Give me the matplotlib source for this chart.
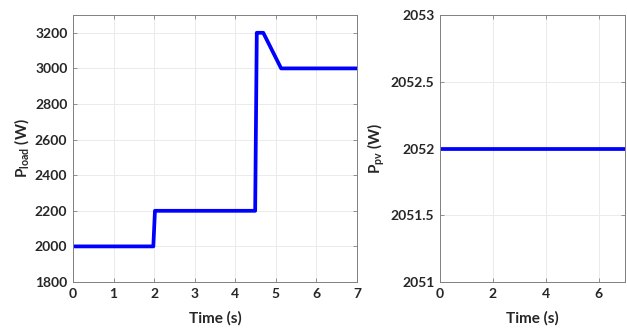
import matplotlib
matplotlib.use("Agg")
import matplotlib.pyplot as plt

# load profile breakpoints (s, W)
t_load = [0, 1.98, 2.02, 4.49, 4.53, 4.69, 5.13, 7]
p_load = [2000, 2000, 2200, 2200, 3200, 3200, 3000, 3000]

# pv output is constant over the run
t_pv = [0, 7]
p_pv = [2052, 2052]

plt.rcParams['font.family'] = ['Lato', 'DejaVu Sans']
plt.rcParams['font.weight'] = 'bold'
plt.rcParams['mathtext.fontset'] = 'custom'
plt.rcParams['mathtext.rm'] = 'Lato'
plt.rcParams['mathtext.bf'] = 'Lato:bold'
plt.rcParams['mathtext.default'] = 'bf'

TXT = '#262626'
EDGE = '#808080'
BLUE = '#0000ff'


def style_axes(ax):
    ax.grid(True, color='#ebebeb', linewidth=0.7)
    ax.set_axisbelow(True)
    for s in ax.spines.values():
        s.set_color(EDGE)
        s.set_linewidth(0.7)
    ax.tick_params(direction='in', length=3, width=0.6, color=EDGE,
                   labelsize=10, labelcolor=TXT, top=True, right=True, pad=4)
    for lbl in ax.get_xticklabels() + ax.get_yticklabels():
        lbl.set_fontweight('bold')


fig = plt.figure(figsize=(6.27, 3.31), dpi=100)
fig.patch.set_facecolor('white')

ax1 = fig.add_axes([73 / 627, 49 / 331, 284 / 627, 267 / 331])
ax1.plot(t_load, p_load, color=BLUE, linewidth=2.7)
ax1.set_xlim(0, 7)
ax1.set_ylim(1800, 3300)
ax1.set_xticks(range(0, 8))
ax1.set_yticks(range(1800, 3201, 200))
ax1.set_xlabel('Time (s)', fontsize=11, fontweight='bold', color=TXT, labelpad=8)
ax1.set_ylabel(r'P$_{\mathrm{load}}$ (W)', fontsize=11, fontweight='bold', color=TXT, labelpad=3)
style_axes(ax1)

ax2 = fig.add_axes([440 / 627, 49 / 331, 185 / 627, 267 / 331])
ax2.plot(t_pv, p_pv, color=BLUE, linewidth=2.7)
ax2.set_xlim(0, 7)
ax2.set_ylim(2051, 2053)
ax2.set_xticks([0, 2, 4, 6])
ax2.set_yticks([2051, 2051.5, 2052, 2052.5, 2053])
ax2.set_yticklabels(['2051', '2051.5', '2052', '2052.5', '2053'])
ax2.set_xlabel('Time (s)', fontsize=11, fontweight='bold', color=TXT, labelpad=8)
ax2.set_ylabel(r'P$_{\mathrm{pv}}$ (W)', fontsize=11, fontweight='bold', color=TXT, labelpad=3)
style_axes(ax2)

fig.savefig('out.png', dpi=100)
